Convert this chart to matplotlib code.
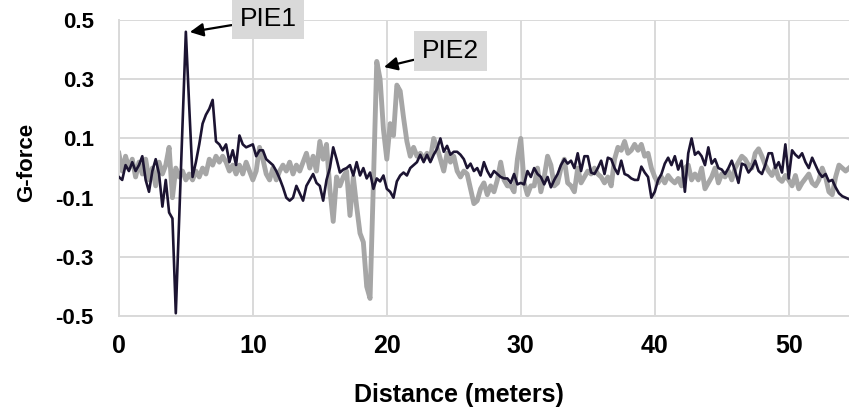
import numpy as np
import matplotlib
matplotlib.use("Agg")
import matplotlib.pyplot as plt

plt.rcParams["font.family"] = ["Liberation Sans", "DejaVu Sans"]

# Distance axis sampled every 0.25 m
x_start, x_step, x_end = 0.0, 0.25, 54.5

# Dark trace (PIE1 run), one row = 2 m
run1 = [
    -0.03, -0.04, 0.01, -0.01, 0.02, -0.01, 0.01, 0.04,
    -0.04, -0.08, -0.01, 0.03, -0.02, -0.13, -0.04, -0.15,
    -0.17, -0.49, -0.17, 0.15, 0.46, 0.21, -0.03, 0.02,
    0.08, 0.15, 0.18, 0.20, 0.23, 0.09, 0.08, 0.06,
    0.08, 0.02, 0.06, 0.01, 0.11, 0.08, 0.07, 0.075,
    0.08, 0.04, 0.06, 0.06, 0.03, 0.02, 0.01, -0.01,
    -0.035, -0.065, -0.10, -0.11, -0.10, -0.06, -0.085, -0.11,
    -0.06, -0.04, -0.02, -0.05, -0.06, -0.11, -0.04, 0.0,
    0.07, 0.03, -0.015, -0.005, 0.0, 0.01, -0.025, 0.02,
    -0.025, 0.0, -0.035, -0.015, -0.07, -0.035, -0.045, -0.025,
    -0.07, -0.08, -0.10, -0.045, -0.025, -0.015, -0.025, 0.0,
    0.01, 0.02, 0.045, 0.02, 0.045, 0.02, 0.045, 0.065,
    0.10, 0.055, 0.075, 0.045, 0.055, 0.055, 0.045, 0.03,
    0.0, 0.015, -0.01, 0.0, -0.025, 0.02, -0.01, -0.03,
    -0.01, -0.02, -0.03, -0.035, -0.035, -0.05, -0.02, -0.055,
    -0.05, -0.055, -0.01, -0.03, 0.0, -0.02, -0.03, -0.055,
    -0.03, -0.065, -0.04, -0.02, 0.01, 0.03, 0.015, 0.025,
    0.0, 0.05, -0.01, 0.04, 0.04, -0.015, -0.02, 0.0,
    0.025, -0.02, 0.035, 0.03, 0.0, -0.02, 0.025, -0.02,
    -0.025, -0.035, -0.04, -0.04, 0.005, -0.015, -0.03, -0.10,
    -0.08, -0.04, -0.02, 0.015, 0.035, 0.01, 0.04, -0.005,
    0.025, -0.08, 0.05, 0.10, 0.045, 0.055, 0.04, 0.01,
    0.07, 0.015, 0.03, 0.0, -0.005, -0.02, 0.0, 0.025,
    -0.01, -0.05, 0.015, 0.01, -0.015, 0.0, 0.025, -0.01,
    -0.02, 0.01, 0.05, 0.05, 0.0, 0.02, -0.015, 0.08,
    -0.035, 0.06, 0.045, 0.035, 0.05, 0.02, 0.0, 0.035,
    0.01, -0.015, -0.03, -0.02, -0.045, -0.04, -0.065, -0.085,
    -0.095, -0.10, -0.105,
]

# Grey trace (PIE2 run)
run2 = [
    0.05, -0.01, 0.04, 0.0, 0.03, -0.03, 0.02, -0.02,
    0.03, -0.04, 0.0, -0.06, 0.02, -0.02, 0.01, 0.07,
    -0.10, 0.0, -0.03, -0.01, -0.04, -0.02, -0.04, -0.01,
    -0.03, 0.0, -0.02, 0.03, 0.01, 0.04, 0.02, 0.04,
    0.02, -0.01, 0.01, -0.02, 0.01, -0.02, 0.02, -0.01,
    -0.04, -0.01, 0.07, 0.03, -0.02, -0.04, 0.0, -0.04,
    -0.01, 0.01, -0.01, 0.02, -0.02, 0.01, -0.01, 0.02,
    0.05, 0.0, 0.04, -0.01, 0.09, 0.03, 0.08, -0.07,
    -0.18, -0.03, -0.06, -0.03, -0.01, -0.16, -0.03, -0.13,
    -0.22, -0.25, -0.40, -0.44, -0.05, 0.36, 0.30, 0.13,
    0.03, 0.15, 0.11, 0.28, 0.26, 0.17, 0.09, 0.04,
    0.07, 0.04, 0.05, 0.03, 0.05, 0.03, 0.10, 0.07,
    0.03, -0.01, 0.05, 0.02, 0.04, -0.01, -0.03, -0.01,
    -0.02, -0.07, -0.12, -0.11, -0.07, -0.05, -0.09, -0.06,
    -0.08, -0.04, 0.02, -0.04, -0.06, -0.06, -0.08, 0.03,
    0.10, -0.05, -0.09, -0.06, -0.06, 0.0, -0.08, -0.03,
    0.04, 0.01, -0.06, -0.05, 0.0, 0.03, -0.05, -0.06,
    -0.08, 0.0, -0.05, -0.03, -0.01, -0.02, 0.0, -0.02,
    -0.03, -0.05, -0.03, -0.06, 0.03, 0.07, 0.06, 0.09,
    0.05, 0.06, 0.08, 0.06, 0.08, 0.04, 0.05, 0.0,
    -0.03, -0.05, -0.03, -0.05, -0.025, -0.04, -0.05, -0.035,
    -0.06, 0.0, 0.01, -0.04, -0.02, -0.04, 0.0, -0.07,
    -0.05, -0.03, 0.0, -0.05, -0.02, -0.03, -0.01, -0.04,
    0.0, 0.02, 0.04, 0.03, 0.01, 0.0, 0.05, 0.065,
    0.04, 0.01, -0.01, -0.025, 0.0, -0.035, -0.045, -0.025,
    -0.04, -0.06, -0.025, -0.07, -0.05, -0.035, -0.02, -0.05,
    -0.06, -0.04, 0.0, -0.03, -0.08, -0.09, -0.03, 0.01,
    0.0, -0.01, 0.0,
]

x_ticks = [0, 10, 20, 30, 40, 50]
y_ticks = [-0.5, -0.3, -0.1, 0.1, 0.3, 0.5]
y_ticklabels = ["-0.5", "-0.3", "-0.1", "0.1", "0.3", "0.5"]

dist = np.arange(len(run1)) * x_step + x_start

fig = plt.figure(figsize=(8.49, 4.15), dpi=100)
ax = fig.add_axes([0.140, 0.238, 0.860, 0.714])

grid_c = "#d9d9d9"
ax.plot(dist, run2, color="#a6a6a6", lw=3.5, solid_joinstyle="round", zorder=2)
ax.plot(dist, run1, color="#1c1432", lw=1.9, zorder=3)

ax.set_xlim(x_start, x_end)
ax.set_ylim(-0.5, 0.5)
ax.set_xticks(x_ticks)
ax.set_yticks(y_ticks)
ax.set_yticklabels(y_ticklabels)
ax.grid(True, color=grid_c, lw=1.4, zorder=0)
ax.set_axisbelow(True)
ax.tick_params(axis="y", length=0, labelsize=16, pad=18)
ax.tick_params(axis="x", length=0, labelsize=18, pad=13)
for lab in ax.get_xticklabels() + ax.get_yticklabels():
    lab.set_fontweight("bold")

for side in ["top", "right"]:
    ax.spines[side].set_visible(False)
for side in ["left", "bottom"]:
    ax.spines[side].set_color(grid_c)
    ax.spines[side].set_linewidth(1.4)

ax.set_xlabel("Distance (meters)", fontsize=18, fontweight="bold")
ax.xaxis.set_label_coords(0.466, -0.225)
ax.set_ylabel("G-force", fontsize=16, fontweight="bold")
ax.yaxis.set_label_coords(-0.112, 0.52)

box = dict(boxstyle="square,pad=0.3", fc="#d9d9d9", ec="none")
arrow = dict(arrowstyle="-|>", color="black", lw=1.6, mutation_scale=20,
             shrinkA=0, shrinkB=0)
ax.annotate("PIE1", xy=(5.3, 0.459), xytext=(11.13, 0.503), fontsize=19,
            ha="center", va="center", bbox=box, arrowprops=arrow,
            annotation_clip=False)
ax.annotate("PIE2", xy=(19.79, 0.341), xytext=(24.72, 0.395), fontsize=19,
            ha="center", va="center", bbox=box, arrowprops=arrow)

fig.savefig("out.png", dpi=100)
